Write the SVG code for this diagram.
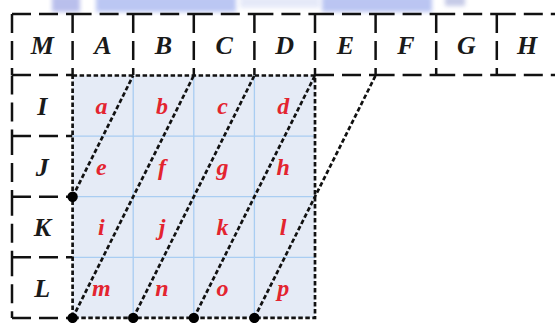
<svg xmlns="http://www.w3.org/2000/svg" width="555" height="323" viewBox="0 0 555 323">
<defs>
<style>
.cell{fill:none;stroke:#111;stroke-width:2.5;stroke-dasharray:19 8}
.dot{fill:none;stroke:#111;stroke-width:2.7;stroke-dasharray:4.5 2.5}
.grid{fill:none;stroke:#a9cdf2;stroke-width:1.3}
.hd{font-family:"Liberation Serif",serif;font-weight:bold;font-style:italic;font-size:26px;fill:#1a1a1a;text-anchor:middle}
.lc{font-family:"Liberation Serif",serif;font-weight:bold;font-style:italic;font-size:24px;fill:#e3242f;text-anchor:middle}
.pt{fill:#000}
</style>
<filter id="blur" x="-10%" y="-50%" width="120%" height="200%"><feGaussianBlur stdDeviation="2"/></filter>
</defs>
<rect width="555" height="323" fill="#fff"/>
<g id="banner" filter="url(#blur)" opacity="0.6">
<rect x="52" y="-4" width="28" height="16" fill="#8c95e0"/>
<rect x="96" y="-4" width="140" height="16" fill="#8fa2ec"/>
<rect x="240" y="-4" width="80" height="12" fill="#d5dcf4"/>
<rect x="322" y="-4" width="110" height="16" fill="#8ea0ea"/>
<rect x="445" y="-4" width="20" height="10" fill="#a0a8d8"/>
</g>
<g id="header">
<path class="cell" d="M12,14V75M12,14H72.6M72.6,14V75M72.6,14H133.2M133.2,14V75M133.2,14H193.8M193.8,14V75M193.8,14H254.4M254.4,14V75M254.4,14H315M315,14V75M315,14H375.6M375.6,14V75M375.6,14H436.2M436.2,14V75M436.2,14H496.8M496.8,14V75M496.8,14H555M12,75H72.6M315,75H375.6M375.6,75H436.2M436.2,75H496.8M496.8,75H555"/>
<text class="hd" x="42.3" y="53.5">M</text>
<text class="hd" x="102.9" y="53.5">A</text>
<text class="hd" x="163.5" y="53.5">B</text>
<text class="hd" x="224.1" y="53.5">C</text>
<text class="hd" x="284.7" y="53.5">D</text>
<text class="hd" x="345.3" y="53.5">E</text>
<text class="hd" x="405.9" y="53.5">F</text>
<text class="hd" x="466.5" y="53.5">G</text>
<text class="hd" x="527.1" y="53.5">H</text>
</g>
<g id="rowlabels">
<path class="cell" d="M12,75.5V136.1M12,136.1V196.7M12,136.1H72.6M12,196.7V257.3M12,196.7H72.6M12,257.3V317.9M12,257.3H72.6M12,317.9H72.6"/>
<text class="hd" x="42.3" y="115">I</text>
<text class="hd" x="42.3" y="175.5">J</text>
<text class="hd" x="42.3" y="236">K</text>
<text class="hd" x="42.3" y="296.5">L</text>
</g>
<g id="matrix">
<rect x="72.6" y="75.5" width="242.4" height="242.4" fill="#e5ebf6"/>
<path class="grid" d="M133.2,75.5V317.9M193.8,75.5V317.9M254.4,75.5V317.9M72.6,136.1H315M72.6,196.7H315M72.6,257.3H315"/>
<rect class="dot" x="72.6" y="75.5" width="242.4" height="242.4"/>
<text class="lc" x="101.4" y="114">a</text>
<text class="lc" x="162" y="114">b</text>
<text class="lc" x="222.6" y="114">c</text>
<text class="lc" x="283.2" y="114">d</text>
<text class="lc" x="101.4" y="174.5">e</text>
<text class="lc" x="162" y="174.5">f</text>
<text class="lc" x="222.6" y="174.5">g</text>
<text class="lc" x="283.2" y="174.5">h</text>
<text class="lc" x="101.4" y="235">i</text>
<text class="lc" x="162" y="235">j</text>
<text class="lc" x="222.6" y="235">k</text>
<text class="lc" x="283.2" y="235">l</text>
<text class="lc" x="101.4" y="295.5">m</text>
<text class="lc" x="162" y="295.5">n</text>
<text class="lc" x="222.6" y="295.5">o</text>
<text class="lc" x="283.2" y="295.5">p</text>
</g>
<g id="connectors">
<path class="dot" d="M72.6,196.7L133.2,75.5M72.6,317.9L193.8,75.5M133.2,317.9L254.4,75.5M193.8,317.9L315,75.5M254.4,317.9L375.6,75.5"/>
<circle class="pt" cx="72.6" cy="196.7" r="5.2"/>
<circle class="pt" cx="72.6" cy="317.9" r="5.2"/>
<circle class="pt" cx="133.2" cy="317.9" r="5.2"/>
<circle class="pt" cx="193.8" cy="317.9" r="5.2"/>
<circle class="pt" cx="254.4" cy="317.9" r="5.2"/>
</g>
</svg>
